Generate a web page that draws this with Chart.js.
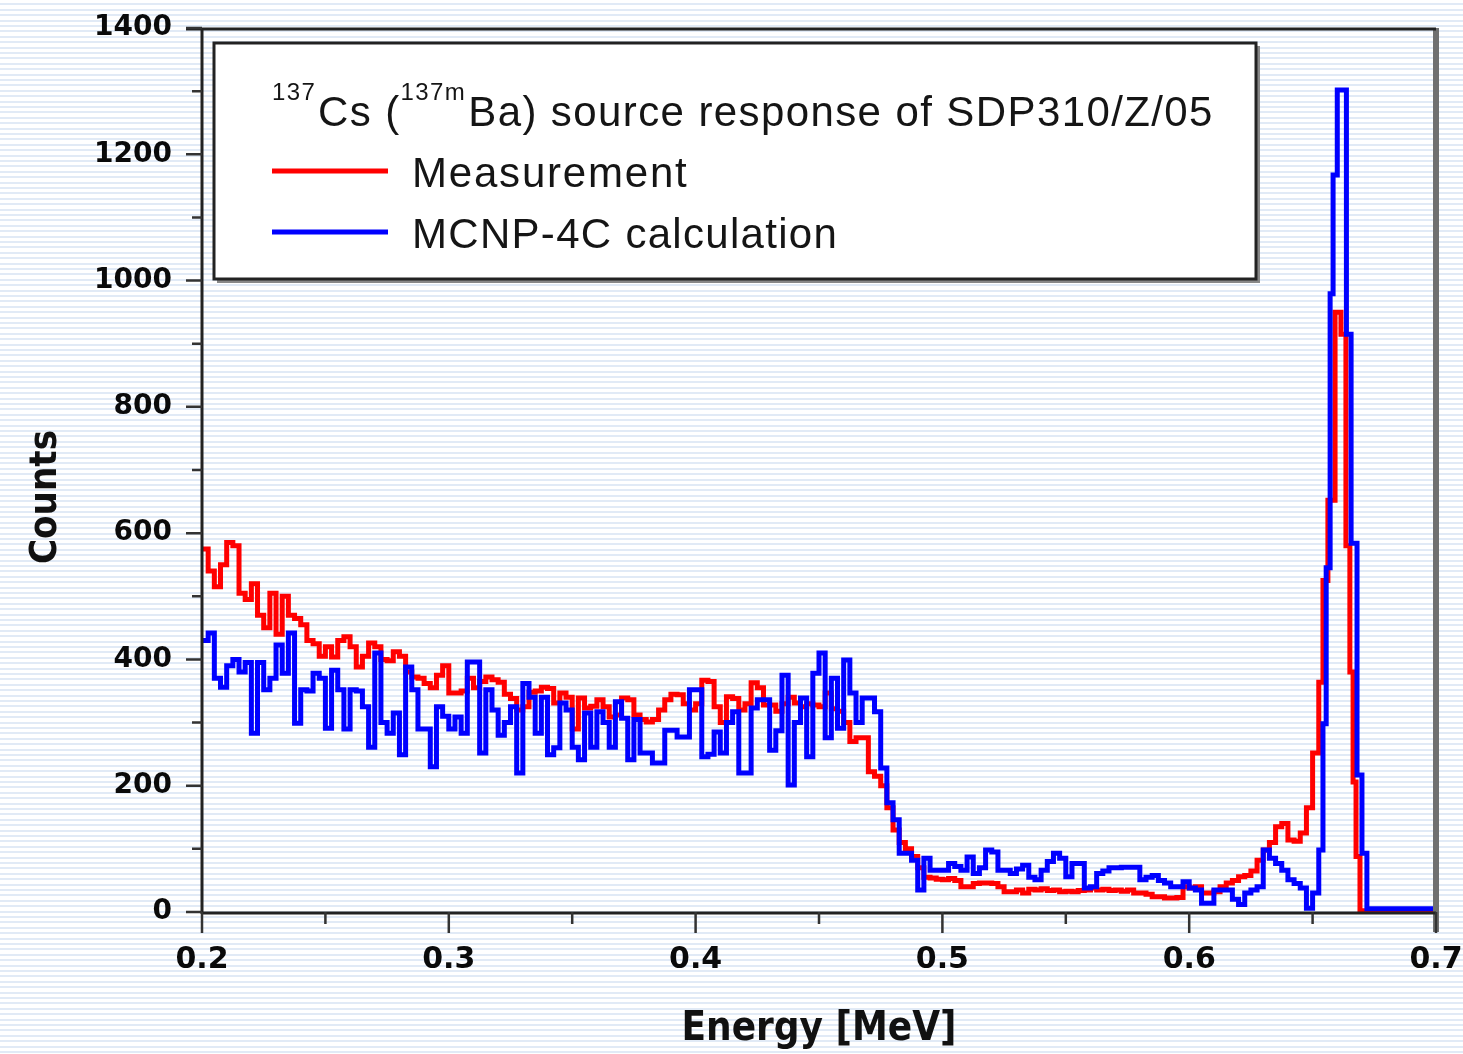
<!DOCTYPE html>
<html>
<head>
<meta charset="utf-8">
<title>137Cs source response of SDP310/Z/05</title>
<script src="https://cdn.jsdelivr.net/npm/chart.js@4.4.1/dist/chart.umd.min.js"></script>
<style>
  html, body { margin: 0; padding: 0; }
  body {
    width: 1463px; height: 1054px; overflow: hidden;
    background: repeating-linear-gradient(to bottom, #ffffff 0px, #ffffff 3.4px, #e1eaf6 3.4px, #e1eaf6 5.4px);
  }
  #wrap { position: relative; width: 1463px; height: 1054px; }
</style>
</head>
<body>
<div id="wrap"><canvas id="spectrum" width="1463" height="1054"></canvas></div>
<script>
// spectrum bins: 0.0025 MeV wide from 0.2 MeV up to 0.6525, finer bins round the 662 keV peak
const binStart = 0.2;
const binWidth = 0.0025;
const energyEnd = 0.7;

// Measurement (red)
const measCounts = [
  575, 540, 515, 550, 585, 580, 505, 495, 520, 470,
  450, 505, 440, 500, 470, 465, 455, 430, 425, 405,
  420, 404, 430, 436, 420, 388, 405, 426, 420, 400,
  398, 412, 405, 380, 372, 370, 362, 355, 375, 390,
  347, 347, 350, 370, 355, 365, 372, 368, 364, 345,
  338, 320, 325, 348, 350, 356, 354, 331, 347, 340,
  290, 339, 323, 326, 336, 325, 309, 312, 339, 336,
  312, 305, 301, 305, 320, 336, 345, 344, 330, 320,
  330, 367, 365, 325, 300, 341, 338, 320, 330, 363,
  355, 328, 328, 318, 330, 340, 331, 325, 330, 328,
  325, 347, 322, 318, 300, 270, 276, 276, 222, 215,
  200, 165, 130, 110, 100, 88, 70, 55, 54, 52,
  51, 53, 50, 40, 40, 45, 46, 46, 45, 40,
  32, 32, 35, 30, 36, 35, 37, 34, 35, 32,
  33, 32, 34, 35, 38, 35, 36, 34, 35, 33,
  35, 30, 30, 28, 24, 24, 22, 22, 23, 40,
  38, 40, 30, 30, 32, 40, 46, 50, 56, 58,
  65, 82, 98, 110, 135, 140, 114, 112, 125, 165,
  252
];
const measPeakEnergy = [0.6525, 0.6542, 0.6562, 0.6591, 0.6615, 0.6635, 0.6651, 0.6664, 0.6676, 0.6692];
const measPeakCounts = [364, 525, 652, 950, 915, 580, 380, 206, 88, 2];

// MCNP-4C calculation (blue)
const mcnpCounts = [
  430, 442, 370, 356, 390, 400, 380, 395, 283, 395,
  352, 370, 423, 378, 442, 299, 352, 350, 378, 370,
  291, 383, 352, 290, 352, 350, 325, 261, 410, 300,
  283, 315, 249, 388, 352, 290, 290, 230, 325, 310,
  290, 309, 283, 396, 396, 252, 352, 320, 280, 300,
  325, 220, 362, 340, 283, 340, 249, 260, 331, 320,
  261, 241, 315, 261, 317, 300, 261, 333, 307, 241,
  305, 252, 252, 236, 236, 288, 288, 277, 277, 352,
  352, 246, 250, 285, 252, 300, 317, 220, 220, 323,
  336, 336, 256, 287, 375, 201, 300, 339, 246, 378,
  410, 276, 370, 291, 399, 347, 300, 339, 339, 317,
  228, 173, 146, 93, 93, 82, 35, 85, 66, 66,
  66, 77, 72, 66, 87, 61, 70, 98, 95, 66,
  66, 61, 68, 74, 55, 51, 66, 80, 93, 85,
  56, 77, 77, 38, 40, 61, 65, 70, 70, 71,
  71, 71, 51, 55, 58, 50, 46, 40, 40, 48,
  38, 35, 14, 14, 35, 35, 35, 20, 12, 30,
  35, 40, 98, 85, 77, 66, 51, 45, 38, 6,
  30
];
const mcnpPeakEnergy = [0.6525, 0.6542, 0.6555, 0.6571, 0.6583, 0.6600, 0.6637, 0.6656, 0.6680, 0.6700, 0.6720];
const mcnpPeakCounts = [98, 298, 545, 979, 1167, 1302, 915, 584, 217, 93, 5];

// axes
const xTicks = [0.2, 0.3, 0.4, 0.5, 0.6, 0.7];
const xMinorTicks = [0.25, 0.35, 0.45, 0.55, 0.65];
const yTicks = [0, 200, 400, 600, 800, 1000, 1200, 1400];
const yMinorTicks = [100, 300, 500, 700, 900, 1100, 1300];

const titleSup1 = '137';
const titleMain1 = 'Cs (';
const titleSup2 = '137m';
const titleMain2 = 'Ba) source response of SDP310/Z/05';
const measLabel = 'Measurement';
const mcnpLabel = 'MCNP-4C calculation';

//turn bin lists into step points (left edge of each bin)
function toSteps(counts, peakE, peakC) {
    let pts = [];
    for (let i = 0; i < counts.length; i++) {
        pts.push({x: binStart + i * binWidth, y: counts[i]});
    }
    for (let i = 0; i < peakE.length; i++) {
        pts.push({x: peakE[i], y: peakC[i]});
    }
    pts.push({x: energyEnd, y: peakC[peakC.length - 1]});
    return pts;
}

const condensed = "'DejaVu Sans Condensed', 'DejaVu Sans', sans-serif";

//frame, ticks, axis titles and the boxed legend
const framePlugin = {
    id: 'frameAndLegend',
    afterDatasetsDraw(chart) {
        const ctx = chart.ctx;
        const a = chart.chartArea;
        const xs = chart.scales.x;
        const ys = chart.scales.y;
        ctx.save();

        // right border (grey) and top border
        ctx.strokeStyle = '#707070';
        ctx.lineWidth = 6;
        ctx.beginPath();
        ctx.moveTo(a.right, a.top);
        ctx.lineTo(a.right, a.bottom + 20);
        ctx.stroke();
        ctx.strokeStyle = '#222';
        ctx.lineWidth = 3;
        ctx.beginPath();
        ctx.moveTo(a.left - 16, a.top + 1);
        ctx.lineTo(a.right, a.top + 1);
        ctx.stroke();

        // left and bottom axis
        ctx.beginPath();
        ctx.moveTo(a.left, a.top);
        ctx.lineTo(a.left, a.bottom + 2);
        ctx.moveTo(a.left, a.bottom + 1);
        ctx.lineTo(a.right, a.bottom + 1);
        ctx.stroke();

        // ticks
        ctx.lineWidth = 2.5;
        ctx.strokeStyle = '#333';
        ctx.beginPath();
        yTicks.forEach(function (v) {
            const py = ys.getPixelForValue(v);
            ctx.moveTo(a.left - 16, py);
            ctx.lineTo(a.left, py);
        });
        yMinorTicks.forEach(function (v) {
            const py = ys.getPixelForValue(v);
            ctx.moveTo(a.left - 10, py);
            ctx.lineTo(a.left, py);
        });
        xTicks.forEach(function (v) {
            const px = xs.getPixelForValue(v);
            ctx.moveTo(px, a.bottom);
            ctx.lineTo(px, a.bottom + 21);
        });
        xMinorTicks.forEach(function (v) {
            const px = xs.getPixelForValue(v);
            ctx.moveTo(px, a.bottom);
            ctx.lineTo(px, a.bottom + 12);
        });
        ctx.stroke();

        // axis titles
        ctx.fillStyle = '#111';
        ctx.font = 'bold 40px ' + condensed;
        ctx.textAlign = 'center';
        ctx.textBaseline = 'alphabetic';
        ctx.fillText('Energy [MeV]', (a.left + a.right) / 2, 1040);
        ctx.save();
        ctx.translate(56, 497);
        ctx.rotate(-Math.PI / 2);
        ctx.font = 'bold 38px ' + condensed;
        ctx.fillText('Counts', 0, 0);
        ctx.restore();

        // legend box
        const bx = 214, by = 43, bw = 1042, bh = 236;
        ctx.fillStyle = '#ffffff';
        ctx.fillRect(bx, by, bw, bh);
        ctx.strokeStyle = '#888';
        ctx.lineWidth = 4;
        ctx.beginPath();
        ctx.moveTo(bx + 3, by + bh + 2);
        ctx.lineTo(bx + bw + 2, by + bh + 2);
        ctx.lineTo(bx + bw + 2, by + 3);
        ctx.stroke();
        ctx.strokeStyle = '#222';
        ctx.lineWidth = 3;
        ctx.strokeRect(bx, by, bw, bh);

        ctx.textAlign = 'left';
        ctx.fillStyle = '#151515';
        ctx.letterSpacing = '1.4px';
        let tx = 272;
        ctx.font = '24px "Liberation Sans", Arial, sans-serif';
        ctx.fillText(titleSup1, tx, 100);
        tx = 318;
        ctx.font = '42px "Liberation Sans", Arial, sans-serif';
        ctx.fillText(titleMain1, tx, 126);
        tx += ctx.measureText(titleMain1).width;
        ctx.font = '24px "Liberation Sans", Arial, sans-serif';
        ctx.fillText(titleSup2, tx, 100);
        tx += ctx.measureText(titleSup2).width + 2;
        ctx.font = '42px "Liberation Sans", Arial, sans-serif';
        ctx.fillText(titleMain2, tx, 126);

        ctx.letterSpacing = '1.8px';
        ctx.fillText(measLabel, 412, 187);
        ctx.letterSpacing = '1.3px';
        ctx.fillText(mcnpLabel, 412, 248);

        ctx.lineWidth = 5;
        ctx.strokeStyle = '#ff0000';
        ctx.beginPath();
        ctx.moveTo(272, 171);
        ctx.lineTo(388, 171);
        ctx.stroke();
        ctx.strokeStyle = '#0000ff';
        ctx.beginPath();
        ctx.moveTo(272, 232);
        ctx.lineTo(388, 232);
        ctx.stroke();

        ctx.restore();
    }
};

const ctx = document.getElementById('spectrum');

new Chart(ctx, {
    type: 'line',
    data: {
        datasets: [
            {
                label: mcnpLabel,
                data: toSteps(mcnpCounts, mcnpPeakEnergy, mcnpPeakCounts),
                borderColor: '#0000ff',
                borderWidth: 5,
                stepped: true,
                pointRadius: 0,
                fill: false,
                order: 0
            },
            {
                label: measLabel,
                data: toSteps(measCounts, measPeakEnergy, measPeakCounts),
                borderColor: '#ff0000',
                borderWidth: 5,
                stepped: true,
                pointRadius: 0,
                fill: false,
                order: 1
            }
        ]
    },
    options: {
        responsive: false,
        animation: false,
        devicePixelRatio: 1,
        layout: { padding: { top: 28, right: 27, left: 0, bottom: 0 } },
        plugins: {
            legend: { display: false },
            tooltip: { enabled: false }
        },
        scales: {
            x: {
                type: 'linear',
                min: 0.2,
                max: 0.7,
                afterBuildTicks: function (scale) {
                    scale.ticks = xTicks.map(function (v) { return {value: v}; });
                },
                afterFit: function (scale) {
                    scale.height = 142;
                    scale.paddingLeft = 0;
                    scale.paddingRight = 0;
                },
                grid: { display: false, drawTicks: false },
                border: { display: false },
                ticks: {
                    padding: 30,
                    autoSkip: false,
                    maxRotation: 0,
                    color: '#0a0a0a',
                    font: { family: 'DejaVu Sans', weight: 'bold', size: 30 },
                    callback: function (v) { return v.toFixed(1); }
                }
            },
            y: {
                type: 'linear',
                min: 0,
                max: 1400,
                afterBuildTicks: function (scale) {
                    scale.ticks = yTicks.map(function (v) { return {value: v}; });
                },
                afterFit: function (scale) {
                    scale.width = 202;
                    scale.paddingTop = 0;
                    scale.paddingBottom = 0;
                },
                grid: { display: false, drawTicks: false },
                border: { display: false },
                ticks: {
                    padding: 30,
                    color: '#0a0a0a',
                    font: { family: 'DejaVu Sans', weight: 'bold', size: 28 },
                    callback: function (v) { return String(v); }
                }
            }
        }
    },
    plugins: [framePlugin]
});
</script>
</body>
</html>
